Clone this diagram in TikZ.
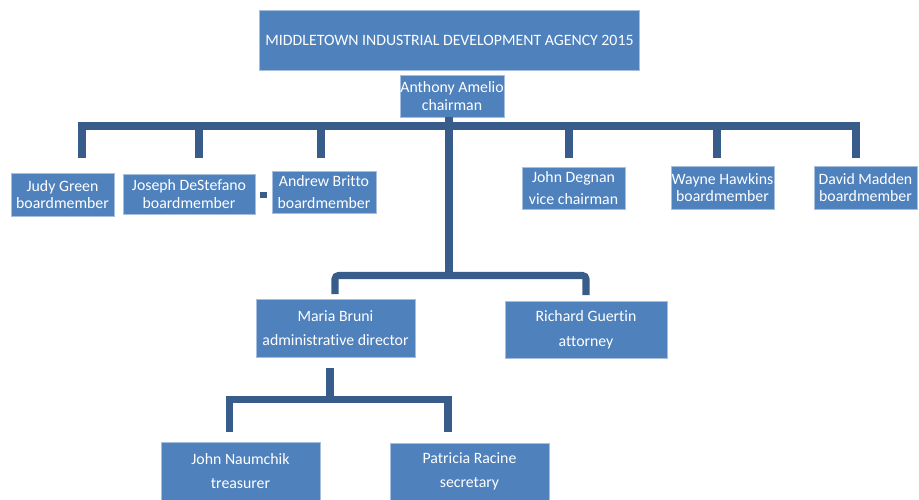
\documentclass[tikz,border=0pt]{standalone}
\usepackage{fontspec}
\setmainfont{Carlito}[Ligatures=NoCommon]
\usetikzlibrary{positioning}
\definecolor{boxblue}{HTML}{4F81BD}
\definecolor{boxedge}{HTML}{A7BFDE}
\definecolor{linkblue}{HTML}{385D8A}
\tikzstyle{box}=[rectangle,
                 draw=boxedge,
                 fill=boxblue,
                 text=white,
                 inner sep=0pt,
                 align=center,
                 font=\fontsize{9}{10}\selectfont]
\tikzstyle{link}=[draw=linkblue, line width=4pt]
\begin{document}
\begin{tikzpicture}[x=0.02cm, y=-0.02cm]
    \useasboundingbox (0,0) rectangle (919,500);
    \node[box, minimum width=7.6cm, minimum height=1.2cm] (title) at (449.5,40) {MIDDLETOWN INDUSTRIAL DEVELOPMENT AGENCY 2015};
    \node[box, minimum width=2.08cm, minimum height=0.84cm] (amelio) at (452,96) {Anthony Amelio\\chairman};
    % board row
    \node[box, minimum width=2.06cm, minimum height=0.86cm] (green) at (62.5,194.5) {Judy Green\\boardmember};
    \node[box, minimum width=2.64cm, minimum height=0.8cm] (destefano) at (189,194) {Joseph DeStefano\\boardmember};
    \node[box, minimum width=2.08cm, minimum height=0.84cm] (britto) at (324,192) {Andrew Britto\\[3pt]boardmember};
    \node[box, minimum width=2.06cm, minimum height=0.84cm] (degnan) at (573.5,188) {John Degnan\\[3pt]vice chairman};
    \node[box, minimum width=2.06cm, minimum height=0.86cm] (hawkins) at (722.5,187.5) {Wayne Hawkins\\boardmember};
    \node[box, minimum width=2.06cm, minimum height=0.86cm] (madden) at (865.5,187.5) {David Madden\\boardmember};
    % staff
    \node[box, minimum width=3.18cm, minimum height=1.16cm] (bruni) at (335.5,328) {Maria Bruni\\[4pt]administrative director};
    \node[box, minimum width=3.24cm, minimum height=1.14cm] (guertin) at (586,329.5) {Richard Guertin\\[4pt]attorney};
    \node[box, minimum width=3.18cm, minimum height=1.16cm] (naumchik) at (240.5,471) {John Naumchik\\[4pt]treasurer};
    \node[box, minimum width=3.18cm, minimum height=1.14cm] (racine) at (469.5,471.5) {Patricia Racine\\[4pt]secretary};

    % board connectors
    \coordinate (ctop) at (449,117);
    \coordinate (barL) at (78,126);
    \coordinate (barR) at (860,126);
    \coordinate (dgreen) at (82,158);
    \coordinate (ddestefano) at (199,158);
    \coordinate (dbritto) at (321,158);
    \coordinate (ddegnan) at (569,158);
    \coordinate (dhawkins) at (717,158);
    \coordinate (dmadden) at (856,158);
    \draw[link] (barL) -- (barR);
    \foreach \n in {dgreen,ddestefano,dbritto,ddegnan,dhawkins,dmadden}
        \draw[link] (\n |- barL) -- (\n);
    \fill[linkblue] (260,192) rectangle (267,198);

    % staff connectors
    \coordinate (cmid) at (449,275.5);
    \coordinate (dbruni) at (335,294);
    \coordinate (dguertin) at (586,295);
    \draw[link] (ctop) -- (cmid);
    \draw[link, rounded corners=2pt] (dbruni) -- (dbruni |- cmid) -- (dguertin |- cmid) -- (dguertin);

    \coordinate (ctop2) at (330,368);
    \coordinate (cbar2) at (330,399.5);
    \coordinate (dnaumchik) at (229.5,432);
    \coordinate (dracine) at (448,432);
    \draw[link] (ctop2) -- (cbar2);
    \draw[link, line join=miter] (dnaumchik) -- (dnaumchik |- cbar2) -- (dracine |- cbar2) -- (dracine);
\end{tikzpicture}
\end{document}
